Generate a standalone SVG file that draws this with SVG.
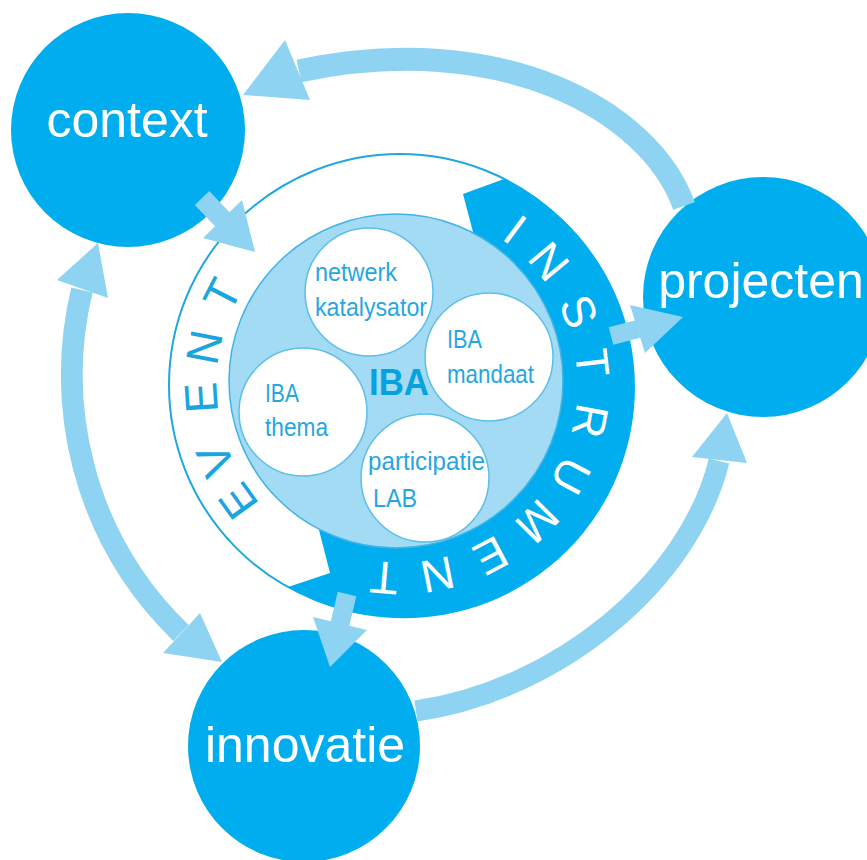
<svg xmlns="http://www.w3.org/2000/svg" width="867" height="860" viewBox="0 0 867 860">
  <style>
    .node { fill: #00aeef; }
    .node-label { fill: #ffffff; font-family: "Liberation Sans", Arial, sans-serif; font-size: 50px; text-anchor: middle; }
    .ring-letter { font-family: "Liberation Sans", Arial, sans-serif; font-size: 46px; text-anchor: middle; }
    .event { fill: #1aa5e0; }
    .instrument { fill: #ffffff; }
    .sub { fill: #ffffff; stroke: #5bbfea; stroke-width: 1.5; }
    .sub-label { fill: #27a6df; font-family: "Liberation Sans", Arial, sans-serif; font-size: 26px; }
    .flow { fill: none; stroke: #8fd3f3; stroke-linecap: butt; }
    .head { fill: #8fd3f3; }
  </style>

  <rect width="867" height="860" fill="#ffffff"/>

  <!-- outer nodes -->
  <g id="context">
    <circle class="node" cx="128" cy="130" r="117"/>
    <text class="node-label" x="127" y="137">context</text>
  </g>
  <g id="projecten">
    <circle class="node" cx="763" cy="297" r="120"/>
    <text class="node-label" x="761" y="298">projecten</text>
  </g>
  <g id="innovatie">
    <circle class="node" cx="304" cy="746" r="116"/>
    <text class="node-label" x="305" y="762">innovatie</text>
  </g>

  <!-- event / instrument ring -->
  <g id="ring">
    <circle cx="400" cy="385" r="231" fill="#ffffff" stroke="#1ea7e1" stroke-width="2"/>
    <path class="node" d="M463,194 L504,179 A231,231 0 1 1 288,587 L330,573 L319,530 L328,515 A150,150 0 0 0 529.6,449.1 A150,150 0 0 0 464.8,247.7 L473,232 Z"/>
    <g class="ring-letter event">
      <text transform="translate(251.1,491.9) rotate(234.3)">E</text>
      <text transform="translate(230.1,454.4) rotate(247.8)">V</text>
      <text transform="translate(216.9,396.8) rotate(266.3)">E</text>
      <text transform="translate(219.8,350.3) rotate(280.9)">N</text>
      <text transform="translate(236.5,301.7) rotate(297)">T</text>
    </g>
    <g class="ring-letter instrument">
      <text transform="translate(505.6,242.3) rotate(36.5)">I</text>
      <text transform="translate(536.6,271.6) rotate(50.3)">N</text>
      <text transform="translate(564.1,317.4) rotate(67.6)">S</text>
      <text transform="translate(576.3,364.6) rotate(83.4)">T</text>
      <text transform="translate(574.4,418.0) rotate(100.7)">R</text>
      <text transform="translate(556.7,468.3) rotate(118)">U</text>
      <text transform="translate(526.0,510.1) rotate(134.8)">M</text>
      <text transform="translate(483.3,541.7) rotate(152)">E</text>
      <text transform="translate(434.5,559.1) rotate(168.8)">N</text>
      <text transform="translate(385.5,561.9) rotate(184.7)">T</text>
    </g>
  </g>

  <!-- IBA core with its four parts -->
  <g id="iba">
    <circle cx="396" cy="381" r="167" fill="#a4dbf4" stroke="#3fb4e6" stroke-width="1.5"/>
    <text x="399" y="395" fill="#05a2df" font-family="Liberation Sans, Arial, sans-serif" font-size="37" font-weight="bold" text-anchor="middle" textLength="60" lengthAdjust="spacingAndGlyphs">IBA</text>
  </g>
  <g id="netwerk-katalysator">
    <circle class="sub" cx="369" cy="292" r="64"/>
    <text class="sub-label" x="315" y="281" textLength="82" lengthAdjust="spacingAndGlyphs">netwerk</text>
    <text class="sub-label" x="315" y="316" textLength="112" lengthAdjust="spacingAndGlyphs">katalysator</text>
  </g>
  <g id="iba-mandaat">
    <circle class="sub" cx="489" cy="357" r="64"/>
    <text class="sub-label" x="447" y="348" textLength="35" lengthAdjust="spacingAndGlyphs">IBA</text>
    <text class="sub-label" x="447" y="383" textLength="87" lengthAdjust="spacingAndGlyphs">mandaat</text>
  </g>
  <g id="iba-thema">
    <circle class="sub" cx="303" cy="412" r="64"/>
    <text class="sub-label" x="265" y="402" textLength="34" lengthAdjust="spacingAndGlyphs">IBA</text>
    <text class="sub-label" x="265" y="436" textLength="63" lengthAdjust="spacingAndGlyphs">thema</text>
  </g>
  <g id="participatie-lab">
    <circle class="sub" cx="425" cy="478" r="64"/>
    <text class="sub-label" x="368" y="470" textLength="117" lengthAdjust="spacingAndGlyphs">participatie</text>
    <text class="sub-label" x="373" y="507" textLength="44" lengthAdjust="spacingAndGlyphs">LAB</text>
  </g>

  <!-- connectors -->
  <g id="connectors">
    <!-- projecten to context -->
    <path class="flow" stroke-width="23" d="M684,206 C650,110 500,28 299,71"/>
    <polygon class="head" points="243,95 285,40 310,100"/>
    <!-- context and innovatie, both ways -->
    <path class="flow" stroke-width="22" d="M82,290 C55,400 80,535 181,633"/>
    <polygon class="head" points="98,243 57,280 108,298"/>
    <polygon class="head" points="222,662 163,653 200,613"/>
    <!-- innovatie to projecten -->
    <path class="flow" stroke-width="21" d="M416,711 C560,690 690,580 719,461"/>
    <polygon class="head" points="727,413 692,457 747,463"/>
    <!-- context to event -->
    <path class="flow" stroke-width="20" d="M202,198 L223,220"/>
    <polygon class="head" points="255,252 203,238 242,200"/>
    <!-- instrument to projecten -->
    <path class="flow" stroke-width="18" d="M611,336 L638,329"/>
    <polygon class="head" points="683,317 630,305 645,353"/>
    <!-- instrument to innovatie -->
    <path class="flow" stroke-width="19" d="M347,594 L340,624"/>
    <polygon class="head" points="330,667 313,617 367,630"/>
  </g>
</svg>
